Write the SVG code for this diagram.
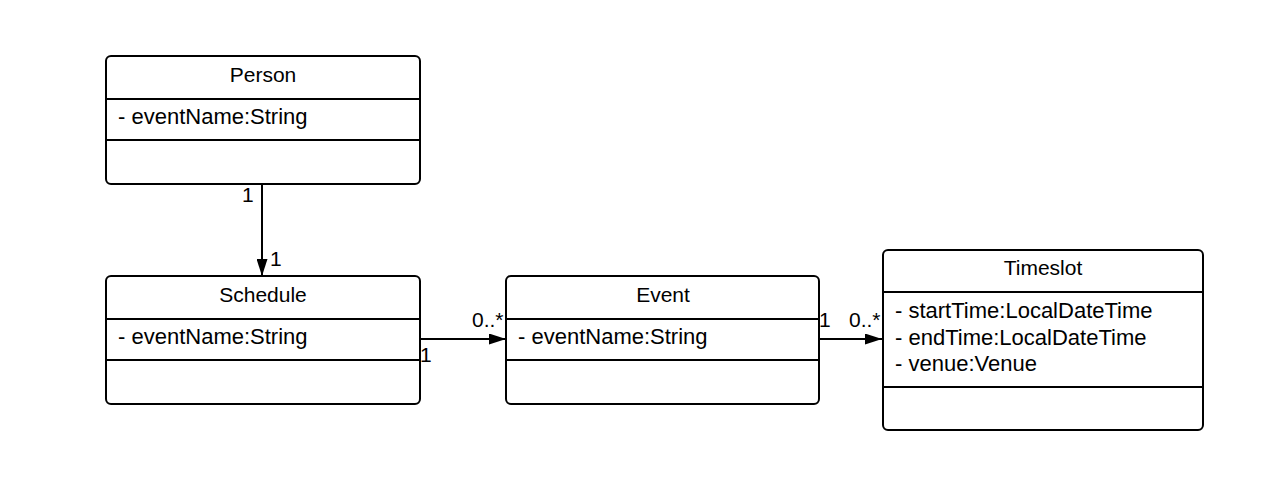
<svg xmlns="http://www.w3.org/2000/svg" width="1269" height="498" viewBox="0 0 1269 498">
<style>
.box{fill:#fff;stroke:#000;stroke-width:2}
.div{stroke:#000;stroke-width:2}
.t{font-family:"Liberation Sans",Arial,sans-serif;font-size:21px;fill:#000}
.a{font-size:22px}
.c{text-anchor:middle}
.edge{stroke:#000;stroke-width:2;fill:none}
</style>
<defs>
<marker id="arr" markerWidth="17" markerHeight="11" refX="17" refY="5.5" orient="auto" markerUnits="userSpaceOnUse">
<path d="M0,0 L17,5.5 L0,11 Z" fill="#000"/>
</marker>
</defs>
<rect width="1269" height="498" fill="#fff"/>
<g id="connectors">
<line class="edge" x1="262" y1="184" x2="262" y2="276" marker-end="url(#arr)"/>
<line class="edge" x1="420" y1="339" x2="506" y2="339" marker-end="url(#arr)"/>
<line class="edge" x1="819" y1="339" x2="882" y2="339" marker-end="url(#arr)"/>
<text class="t" x="242" y="202">1</text>
<text class="t" x="270" y="266">1</text>
<text class="t" x="472" y="327">0..*</text>
<text class="t" x="420" y="362">1</text>
<text class="t" x="819" y="327">1</text>
<text class="t" x="849" y="327">0..*</text>
</g>
<g id="person">
<rect class="box" x="106" y="56" width="314" height="128" rx="5"/>
<line class="div" x1="106" y1="99" x2="420" y2="99"/>
<line class="div" x1="106" y1="140" x2="420" y2="140"/>
<text class="t c" x="263" y="82">Person</text>
<text class="t a" x="118" y="124">- eventName:String</text>
</g>
<g id="schedule">
<rect class="box" x="106" y="276" width="314" height="128" rx="5"/>
<line class="div" x1="106" y1="319" x2="420" y2="319"/>
<line class="div" x1="106" y1="360" x2="420" y2="360"/>
<text class="t c" x="263" y="302">Schedule</text>
<text class="t a" x="118" y="344">- eventName:String</text>
</g>
<g id="event">
<rect class="box" x="506" y="276" width="313" height="128" rx="5"/>
<line class="div" x1="506" y1="319" x2="819" y2="319"/>
<line class="div" x1="506" y1="360" x2="819" y2="360"/>
<text class="t c" x="663" y="302">Event</text>
<text class="t a" x="518" y="344">- eventName:String</text>
</g>
<g id="timeslot">
<rect class="box" x="883" y="250" width="320" height="180" rx="5"/>
<line class="div" x1="883" y1="292" x2="1203" y2="292"/>
<line class="div" x1="883" y1="387" x2="1203" y2="387"/>
<text class="t c" x="1043" y="275">Timeslot</text>
<text class="t a" x="895" y="318">- startTime:LocalDateTime</text>
<text class="t a" x="895" y="344.5">- endTime:LocalDateTime</text>
<text class="t a" x="895" y="371">- venue:Venue</text>
</g>
</svg>
